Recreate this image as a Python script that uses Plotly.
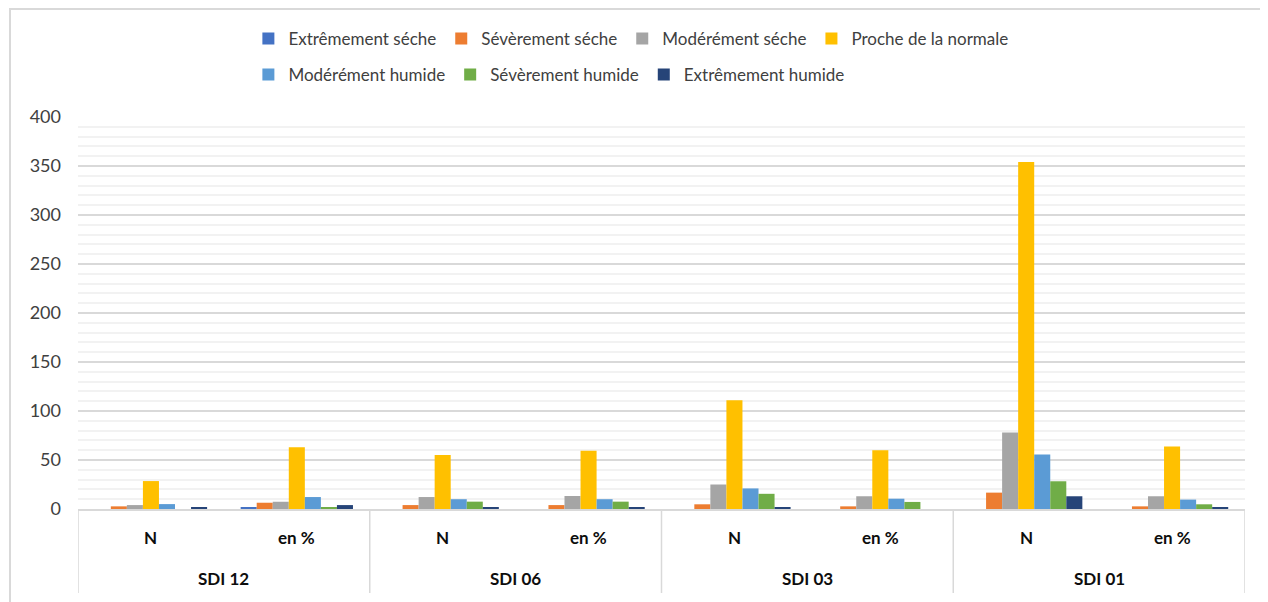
import plotly.graph_objects as go

group_labels = ["SDI 12", "SDI 06", "SDI 03", "SDI 01"]
sub_labels = ["N", "en %"]
categories = [f"{g} | {s}" for g in group_labels for s in sub_labels]

series_names = ["Extrêmement séche", "Sévèrement séche", "Modérément séche", "Proche de la normale",
                "Modérément humide", "Sévèrement humide", "Extrêmement humide"]
colors = ["#4472C4", "#ED7D31", "#A5A5A5", "#FFC000", "#5B9BD5", "#70AD47", "#264478"]

extr_seche = [0, 1.2, 0, 0, 0, 0, 0, 0]
sev_seche = [2.7, 6.4, 4, 4, 4.8, 2.7, 16.7, 2.7]
mod_seche = [4, 7.4, 12.2, 13.3, 25, 13, 78, 13]
proche = [28.5, 63, 55, 59.5, 111, 60, 354, 63.7]
mod_humide = [5, 12.2, 10, 10, 21, 10.5, 55.5, 9.6]
sev_humide = [0, 1.5, 7.5, 7.5, 15.5, 7.2, 28.3, 4.8]
extr_humide = [1.6, 4, 1.5, 1.5, 1.5, 0, 13, 1.3]

values = [extr_seche, sev_seche, mod_seche, proche, mod_humide, sev_humide, extr_humide]

font_family = "Lato, 'Open Sans', sans-serif"

# page body has an 8px margin; figure is sized so the plot lands where the reference has it
W, H = 1260, 594
L, R, T, B = 70, 23, 109, 93
plot_h = H - T - B  # 392

fig = go.Figure()
for i, (name, col, vals) in enumerate(zip(series_names, colors, values)):
    fig.add_trace(go.Bar(
        x=categories, y=vals, name=name,
        marker=dict(color=col, line=dict(width=0)),
        legend="legend" if i < 4 else "legend2",
    ))

fig.update_layout(
    width=W, height=H,
    margin=dict(l=L, r=R, t=T, b=B),
    paper_bgcolor="white", plot_bgcolor="white",
    barmode="group", bargap=0.23, bargroupgap=0,
    font=dict(family=font_family, color="#404040", size=16),
    legend=dict(orientation="h", x=0.146, xanchor="left", y=1.199, yanchor="middle",
                font=dict(size=17, color="#404040"), itemwidth=30, traceorder="normal"),
    legend2=dict(orientation="h", x=0.146, xanchor="left", y=1.107, yanchor="middle",
                 font=dict(size=17, color="#404040"), itemwidth=30, traceorder="normal"),
    showlegend=True,
)

fig.update_yaxes(
    range=[0, 400], dtick=50, tick0=0,
    showgrid=True, gridcolor="#D9D9D9", gridwidth=1.5,
    minor=dict(dtick=10, showgrid=True, gridcolor="#F2F2F2", gridwidth=1.5),
    zeroline=False, showline=False, ticks="",
    tickfont=dict(size=18, color="#404040", family=font_family),
    ticklabelstandoff=16,
)
fig.update_xaxes(
    type="category", categoryorder="array", categoryarray=categories,
    range=[-0.5, len(categories) - 0.5],
    showline=True, linecolor="#D9D9D9", linewidth=1.5,
    ticks="", showgrid=False, showticklabels=False,
)

# inner (N / en %) labels
lab_font = dict(size=17, color="#0D0D0D", family=font_family, weight="bold")
for i, c in enumerate(categories):
    fig.add_annotation(x=i, xref="x", y=-(537 - 509) / plot_h, yref="paper",
                       text=c.split(" | ")[1], showarrow=False, font=lab_font,
                       xanchor="center", yanchor="middle")
# outer (SDI) labels
for j, g in enumerate(group_labels):
    fig.add_annotation(x=2 * j + 0.5, xref="x", y=-(578 - 509) / plot_h, yref="paper",
                       text=g, showarrow=False, font=lab_font,
                       xanchor="center", yanchor="middle")
# group dividers
for k in range(len(group_labels) + 1):
    fig.add_shape(type="line", xref="x", yref="paper",
                  x0=2 * k - 0.5, x1=2 * k - 0.5, y0=0, y1=-(593 - 509) / plot_h,
                  line=dict(color="#D9D9D9", width=1.5))

# outer chart border
fig.add_shape(type="rect", xref="paper", yref="paper",
              x0=(2 - L) / (W - L - R), x1=(1290 - L) / (W - L - R),
              y0=-(700 - T - plot_h) / plot_h, y1=(T - 1) / plot_h + 1,
              line=dict(color="#D9D9D9", width=2), fillcolor="rgba(0,0,0,0)", layer="below")

fig.write_html("out.html")
